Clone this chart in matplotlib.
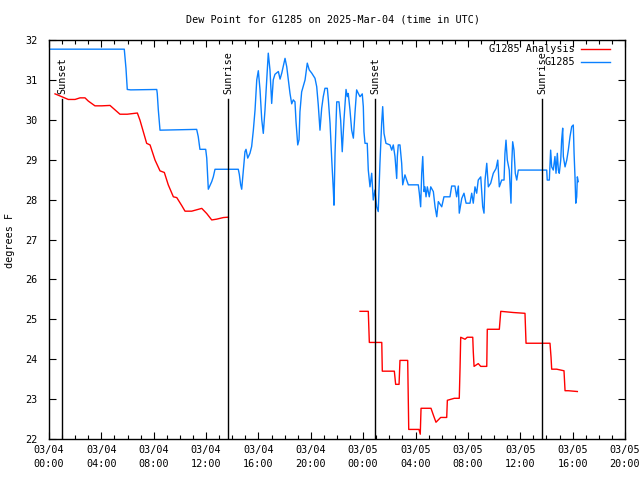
import matplotlib
matplotlib.use("Agg")
import matplotlib.pyplot as plt
from matplotlib.lines import Line2D
import numpy as np

# time in hours since 2025-03-04 00:00 UTC, dew point in deg F
analysis_t1 = [0.46, 0.97, 1.47, 1.99, 2.37, 2.75, 3.0, 3.51, 4.03, 4.66, 5.04, 5.42, 5.98,
               6.75, 6.95, 7.46, 7.72, 8.1, 8.48, 8.81, 9.11, 9.5, 9.76, 10.14, 10.39, 10.9,
               11.67, 12.05, 12.43, 12.81, 13.32, 13.7]
analysis_v1 = [30.65, 30.58, 30.51, 30.51, 30.55, 30.55, 30.47, 30.35, 30.35, 30.36, 30.25,
               30.14, 30.14, 30.17, 29.99, 29.41, 29.37, 28.99, 28.72, 28.68, 28.37, 28.07,
               28.05, 27.85, 27.71, 27.71, 27.78, 27.65, 27.49, 27.51, 27.55, 27.56]

analysis_t2 = [23.76, 24.39, 24.47, 25.42, 25.46, 26.38, 26.48, 26.74, 26.81, 27.40, 27.48,
               28.26, 28.36, 28.42, 29.18, 29.36, 29.56, 29.92, 30.38, 30.43, 30.96, 31.34,
               31.40, 31.45, 31.78, 31.95, 32.37, 32.41, 32.47, 32.79, 32.98, 33.44, 33.48,
               34.40, 34.51, 35.47, 36.36, 36.44, 38.27, 38.35, 38.40, 38.78, 39.34, 39.42,
               39.67, 40.36]
analysis_v2 = [25.20, 25.20, 24.42, 24.42, 23.70, 23.70, 23.37, 23.37, 23.97, 23.97, 22.24,
               22.24, 22.12, 22.77, 22.77, 22.60, 22.42, 22.54, 22.54, 22.97, 23.02, 23.02,
               23.79, 24.55, 24.50, 24.55, 24.55, 24.19, 23.82, 23.89, 23.82, 23.82, 24.75,
               24.75, 25.20, 25.17, 25.15, 24.40, 24.40, 24.05, 23.75, 23.75, 23.71, 23.21,
               23.21, 23.19]

obs_t = [0.0, 5.75, 5.88, 5.98, 6.24, 8.23, 8.27, 8.35, 8.48, 11.28,
         11.40, 11.53, 11.97, 12.05, 12.17, 12.43, 12.55, 12.68, 13.06, 14.46,
         14.54, 14.64, 14.72, 14.80, 14.97, 15.05, 15.18, 15.35, 15.48, 15.61,
         15.74, 15.87, 15.99, 16.12, 16.25, 16.37, 16.50, 16.63, 16.75, 16.88,
         17.01, 17.13, 17.26, 17.52, 17.65, 17.78, 18.03, 18.16, 18.28, 18.41,
         18.54, 18.66, 18.79, 18.87, 19.00, 19.10, 19.17, 19.30, 19.56, 19.73,
         19.88, 20.07, 20.32, 20.45, 20.57, 20.70, 20.83, 20.95, 21.08, 21.26,
         21.34, 21.47, 21.60, 21.72, 21.77, 21.85, 21.98, 22.15, 22.28, 22.40,
         22.53, 22.69, 22.79, 22.86, 22.99, 23.12, 23.25, 23.37, 23.50, 23.63,
         23.76, 23.93, 24.01, 24.06, 24.14, 24.31, 24.39, 24.52, 24.65, 24.77,
         24.90, 25.03, 25.15, 25.28, 25.41, 25.49, 25.59, 25.74, 26.05, 26.18,
         26.30, 26.43, 26.56, 26.61, 26.68, 26.81, 26.94, 27.02, 27.19, 27.32,
         27.45, 28.21, 28.29, 28.39, 28.47, 28.55, 28.65, 28.72, 28.80, 28.90,
         29.05, 29.16, 29.36, 29.49, 29.62, 29.74, 30.00, 30.17, 30.63, 30.76,
         31.01, 31.14, 31.27, 31.34, 31.53, 31.70, 31.86, 32.16, 32.29, 32.41,
         32.54, 32.67, 32.79, 32.98, 33.13, 33.23, 33.31, 33.44, 33.56, 33.74,
         33.94, 34.15, 34.28, 34.40, 34.58, 34.76, 34.83, 34.91, 35.01, 35.16,
         35.29, 35.35, 35.42, 35.52, 35.62, 35.73, 35.85, 38.02, 38.06, 38.22,
         38.32, 38.40, 38.52, 38.65, 38.73, 38.83, 38.91, 38.98, 39.09, 39.16,
         39.24, 39.29, 39.42, 39.55, 39.67, 39.80, 39.93, 40.05, 40.11, 40.18,
         40.24, 40.31, 40.36, 40.43]
obs_v = [31.77, 31.77, 31.29, 30.76, 30.75, 30.76, 30.66, 30.25, 29.74, 29.76,
         29.58, 29.26, 29.26, 29.04, 28.26, 28.45, 28.57, 28.76, 28.76, 28.76,
         28.63, 28.37, 28.26, 28.57, 29.20, 29.26, 29.04, 29.16, 29.33, 29.74,
         30.25, 31.00, 31.23, 30.75, 30.01, 29.66, 30.25, 31.00, 31.67, 31.25,
         30.41, 31.00, 31.14, 31.21, 31.02, 31.17, 31.54, 31.33, 31.00, 30.66,
         30.40, 30.50, 30.45, 29.95, 29.37, 29.50, 30.20, 30.70, 31.00, 31.42,
         31.25, 31.17, 31.04, 30.83, 30.37, 29.74, 30.29, 30.58, 30.79, 30.79,
         30.50, 29.91, 28.99, 28.24, 27.86, 29.16, 30.45, 30.45, 29.99, 29.20,
         29.99, 30.76, 30.58, 30.66, 30.25, 29.74, 29.54, 30.16, 30.75, 30.66,
         30.58, 30.65, 30.33, 29.70, 29.41, 29.41, 28.74, 28.32, 28.66, 27.99,
         28.24, 27.82, 27.70, 28.91, 29.91, 30.33, 29.66, 29.41, 29.37, 29.24,
         29.37, 29.08, 28.53, 29.08, 29.37, 29.37, 28.91, 28.37, 28.62, 28.49,
         28.37, 28.37, 28.16, 27.82, 28.66, 29.08, 28.20, 28.32, 28.07, 28.32,
         28.07, 28.32, 28.20, 27.82, 27.57, 27.95, 27.82, 28.07, 28.07, 28.34,
         28.34, 28.07, 28.34, 27.66, 28.03, 28.16, 27.91, 27.91, 28.16, 27.91,
         28.32, 28.16, 28.49, 28.57, 27.82, 27.66, 28.49, 28.91, 28.32, 28.41,
         28.66, 28.78, 28.99, 28.32, 28.49, 28.49, 29.16, 29.49, 28.99, 28.74,
         27.91, 28.91, 29.45, 29.24, 28.66, 28.49, 28.74, 28.74, 28.49, 28.49,
         29.24, 28.82, 28.74, 29.08, 28.66, 29.16, 28.74, 28.66, 28.99, 29.49,
         29.79, 29.08, 28.82, 28.99, 29.24, 29.58, 29.83, 29.87, 29.16, 28.57,
         27.91, 28.07, 28.57, 28.45]

sun_times = [0.99, 13.67, 24.90, 37.66]
sun_labels = ["Sunset", "Sunrise", "Sunset", "Sunrise"]

xtick_hours = [0, 4, 8, 12, 16, 20, 24, 28, 32, 36, 40, 44]
xtick_labels = ["03/04\n00:00", "03/04\n04:00", "03/04\n08:00", "03/04\n12:00",
                "03/04\n16:00", "03/04\n20:00", "03/05\n00:00", "03/05\n04:00",
                "03/05\n08:00", "03/05\n12:00", "03/05\n16:00", "03/05\n20:00"]

title = "Dew Point for G1285 on 2025-Mar-04 (time in UTC)"
legend_labels = ["G1285 Analysis", "G1285"]

RED = "#ff0000"
BLUE = "#0a80ff"
FS = 7.3
LW = 1.0
plt.rcParams['font.family'] = ['DejaVu Sans Mono']
plt.rcParams['font.size'] = FS

fig = plt.figure(figsize=(6.4, 4.8), dpi=100)
ax = fig.add_axes([49/640, 1-439/480, 576/640, 399/480])

ax.plot(analysis_t1, analysis_v1, color=RED, lw=LW)
ax.plot(analysis_t2, analysis_v2, color=RED, lw=LW)
ax.plot(obs_t, obs_v, color=BLUE, lw=LW)

for t, lab in zip(sun_times, sun_labels):
    ax.plot([t, t], [22, 30.52], color="black", lw=1.0)
    ax.text(t, 30.65, lab, rotation=90, ha="center", va="bottom", fontsize=FS)

ax.set_xlim(0, 44)
ax.set_ylim(22, 32)
ax.set_xticks(xtick_hours)
ax.set_xticklabels(xtick_labels, linespacing=1.5)
ax.set_xticks(np.arange(0, 45, 1), minor=True)
ax.set_yticks(np.arange(22, 33, 1))
ax.tick_params(axis="both", which="major", direction="in", length=5, width=0.8,
               top=True, right=True, labelsize=FS, pad=4)
ax.tick_params(axis="both", which="minor", direction="in", length=3, width=0.8,
               top=True, right=True)
ax.tick_params(axis="y", pad=8)
for sp in ax.spines.values():
    sp.set_linewidth(1.0)

fig.text(10/640, 1-240/480, "degrees F", rotation=90, ha="center", va="center", fontsize=FS)
fig.text(333/640, 1-20/480, title, ha="center", va="center", fontsize=FS)

# key
for i, (lab, col) in enumerate(zip(legend_labels, [RED, BLUE])):
    y = 1 - (49 + 13*i)/480
    fig.text(575/640, y, lab, ha="right", va="center", fontsize=FS)
    fig.add_artist(Line2D([581/640, 610/640], [y, y], color=col, lw=1.0,
                          transform=fig.transFigure))

fig.savefig("out.png", dpi=100)
